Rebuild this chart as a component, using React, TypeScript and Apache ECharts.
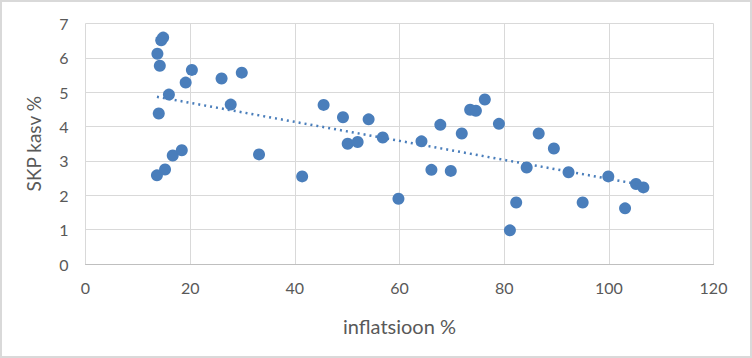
import React, { useEffect, useRef } from "react";
import * as echarts from "echarts";

const inflation = [
  13.74, 14.47, 14.84, 14.2, 14.0, 13.65, 15.2, 15.94, 16.67, 18.4, 19.14, 20.33,
  26.0, 27.75, 29.86, 33.16, 41.4, 45.5, 49.2, 50.1, 52.0, 54.1, 56.8, 59.8,
  64.2, 66.1, 67.8, 69.8, 71.9, 73.5, 74.6, 76.3, 79.0, 81.1, 82.3, 84.3,
  86.6, 89.5, 92.3, 95.0, 99.9, 103.1, 105.2, 106.6,
];
const gdpGrowth = [
  6.12, 6.51, 6.59, 5.77, 4.38, 2.58, 2.75, 4.93, 3.16, 3.31, 5.28, 5.65,
  5.4, 4.64, 5.57, 3.19, 2.55, 4.63, 4.27, 3.5, 3.55, 4.21, 3.68, 1.9,
  3.57, 2.74, 4.05, 2.71, 3.8, 4.49, 4.46, 4.79, 4.08, 0.98, 1.79, 2.81,
  3.8, 3.36, 2.67, 1.79, 2.55, 1.62, 2.33, 2.23,
];
const xTitle = "inflatsioon %";
const yTitle = "SKP kasv %";

function trend(): number[][] {
  const n = inflation.length;
  let sx = 0, sy = 0, sxx = 0, sxy = 0;
  for (let i = 0; i < n; i++) {
    sx += inflation[i];
    sy += gdpGrowth[i];
    sxx += inflation[i] * inflation[i];
    sxy += inflation[i] * gdpGrowth[i];
  }
  const b = (n * sxy - sx * sy) / (n * sxx - sx * sx);
  const a = (sy - b * sx) / n;
  const x0 = Math.min(...inflation);
  const x1 = Math.max(...inflation);
  return [
    [x0, a + b * x0],
    [x1, a + b * x1],
  ];
}

export default function App() {
  const ref = useRef<HTMLDivElement>(null);
  useEffect(() => {
    document.body.style.margin = "0";
    const chart = echarts.init(ref.current!, null, { renderer: "svg" });
    const blue = "#4a7ebb";
    const font = "Lato, 'Open Sans', sans-serif";
    chart.setOption({
      animation: false,
      backgroundColor: "#ffffff",
      graphic: [
        {
          type: "rect",
          shape: { x: 1, y: 1, width: 750, height: 356 },
          style: { fill: "none", stroke: "#d9d9d9", lineWidth: 2 },
          silent: true,
        },
      ],
      grid: { left: 85.5, right: 38.5, top: 23.5, bottom: 94 },
      xAxis: {
        type: "value",
        min: 0,
        max: 120,
        interval: 20,
        name: xTitle,
        nameLocation: "middle",
        nameGap: 52,
        nameTextStyle: { color: "#595959", fontSize: 20, fontFamily: font },
        axisLine: { show: true, lineStyle: { color: "#bfbfbf", width: 1 } },
        axisTick: { show: false },
        axisLabel: { color: "#595959", fontSize: 16, fontFamily: font, margin: 15 },
        splitLine: { show: true, lineStyle: { color: "#d9d9d9", width: 1 } },
      },
      yAxis: {
        type: "value",
        min: 0,
        max: 7,
        interval: 1,
        name: yTitle,
        nameLocation: "middle",
        nameGap: 43,
        nameRotate: 90,
        nameTextStyle: { color: "#595959", fontSize: 19, fontFamily: font },
        axisLine: { show: false },
        axisTick: { show: false },
        axisLabel: { color: "#595959", fontSize: 16, fontFamily: font, margin: 17 },
        splitLine: { show: true, lineStyle: { color: "#d9d9d9", width: 1 } },
      },
      series: [
        {
          type: "scatter",
          data: inflation.map((x, i) => [x, gdpGrowth[i]]),
          symbolSize: 12,
          itemStyle: { color: blue, opacity: 1 },
          z: 3,
        },
        {
          type: "line",
          data: trend(),
          showSymbol: false,
          symbol: "none",
          lineStyle: { color: blue, width: 2.5, type: [2, 4] },
          z: 4,
        },
      ],
    });
    return () => chart.dispose();
  }, []);
  return <div ref={ref} style={{ width: 752, height: 358 }} />;
}
